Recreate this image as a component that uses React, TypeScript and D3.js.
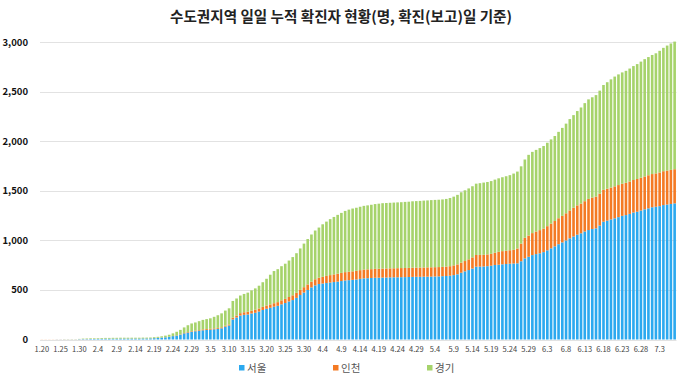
import React from "react";
import * as d3 from "d3";

const TITLE = "수도권지역 일일 누적 확진자 현황(명, 확진(보고)일 기준)";
const SERIES_NAMES = ["서울", "인천", "경기"];
const SERIES_COLORS = ["#2CA9EF", "#F47A24", "#A6D36B"];
const START_DATE = new Date(2020, 0, 20);
const Y_TICKS = [0, 500, 1000, 1500, 2000, 2500, 3000];

// Seoul cumulative, 1.20 ~ 7.7
const seoul = [
  0, 0, 0, 0, 1, 1, 1, 1, 1, 1,
  3, 4, 4, 5, 5, 6, 7, 8, 8, 8,
  8, 9, 9, 9, 9, 9, 9, 10, 10, 11,
  13, 16, 19, 22, 27, 34, 40, 49, 62, 70,
  78, 83, 88, 93, 96, 99, 103, 108, 113, 130,
  141, 203, 222, 242, 249, 253, 263, 270, 282, 298,
  310, 320, 331, 340, 355, 368, 384, 398, 420, 449,
  474, 500, 526, 546, 560, 565, 570, 575, 580, 584,
  590, 596, 599, 602, 606, 612, 617, 619, 621, 623,
  624, 625, 626, 627, 628, 628, 629, 630, 631, 632,
  633, 633, 634, 634, 635, 636, 637, 639, 641, 644,
  650, 658, 674, 688, 701, 716, 735, 736, 737, 740,
  745, 752, 755, 759, 762, 765, 767, 769, 790, 819,
  835, 852, 862, 870, 882, 900, 920, 940, 962, 980,
  1000, 1021, 1040, 1058, 1072, 1090, 1105, 1115, 1122, 1150,
  1189, 1200, 1212, 1223, 1235, 1248, 1256, 1268, 1282, 1290,
  1302, 1314, 1324, 1335, 1340, 1346, 1357, 1362, 1368, 1374,
];

// Incheon cumulative
const incheon = [
  1, 1, 1, 1, 1, 1, 1, 1, 1, 1,
  1, 1, 1, 1, 1, 1, 1, 1, 1, 1,
  1, 1, 1, 1, 1, 1, 1, 1, 1, 1,
  1, 1, 1, 1, 1, 2, 3, 3, 4, 6,
  6, 7, 7, 9, 9, 9, 9, 9, 10, 10,
  11, 18, 20, 24, 26, 27, 28, 30, 31, 32,
  33, 34, 35, 37, 40, 42, 45, 48, 51, 52,
  54, 56, 58, 62, 64, 68, 72, 75, 77, 80,
  82, 84, 85, 86, 87, 88, 89, 89, 89, 90,
  90, 91, 91, 91, 91, 92, 92, 92, 92, 93,
  93, 93, 93, 94, 94, 94, 94, 94, 95, 96,
  98, 100, 102, 104, 108, 113, 118, 118, 118, 119,
  120, 124, 130, 133, 134, 136, 138, 150, 178, 208,
  214, 222, 228, 234, 238, 244, 250, 256, 262, 268,
  274, 282, 290, 296, 300, 306, 314, 318, 320, 322,
  322, 322, 322, 323, 324, 324, 326, 327, 328, 330,
  331, 332, 334, 335, 337, 340, 342, 343, 344, 345,
];

// Gyeonggi cumulative
const gyeonggi = [
  0, 0, 0, 0, 0, 0, 1, 1, 1, 1,
  2, 4, 5, 6, 6, 6, 7, 7, 7, 8,
  8, 8, 8, 8, 8, 8, 8, 8, 8, 8,
  9, 10, 12, 16, 20, 26, 35, 45, 56, 68,
  78, 82, 90, 96, 101, 106, 117, 128, 141, 152,
  163, 168, 172, 178, 185, 193, 205, 216, 230, 248,
  270, 300, 325, 333, 345, 355, 368, 386, 400, 418,
  440, 458, 476, 492, 506, 530, 548, 565, 580, 594,
  606, 618, 627, 634, 637, 640, 643, 646, 650, 654,
  657, 660, 661, 662, 663, 664, 665, 667, 668, 670,
  671, 673, 675, 676, 678, 679, 680, 681, 683, 688,
  694, 702, 710, 714, 716, 718, 720, 724, 729, 731,
  734, 738, 742, 746, 752, 758, 770, 776, 780, 790,
  815, 820, 824, 828, 833, 842, 850, 858, 872, 888,
  905, 922, 935, 952, 970, 990, 1005, 1012, 1025, 1040,
  1058, 1075, 1092, 1108, 1117, 1124, 1130, 1140, 1150, 1160,
  1172, 1184, 1193, 1202, 1212, 1228, 1245, 1262, 1276, 1288,
];

const W = 680;
const H = 377;
const FONT = "'Noto Sans CJK KR', 'Noto Sans', sans-serif";

export default function App() {
  const dates = seoul.map((_, i) => d3.timeDay.offset(START_DATE, i));
  const labels = dates.map((d) => `${d.getMonth() + 1}.${d.getDate()}`);
  const rows = labels.map((k, i) => ({
    key: k,
    s0: seoul[i],
    s1: incheon[i],
    s2: gyeonggi[i],
  }));
  const stack = d3.stack<any>().keys(["s0", "s1", "s2"])(rows);

  const x = d3
    .scaleBand<string>()
    .domain(labels)
    .range([40, 676.5])
    .paddingInner(0.3)
    .paddingOuter(0.15);
  const y = d3.scaleLinear().domain([0, 3000]).range([339.5, 42.3]);
  const fmt = d3.format(",");

  const legendX = [239, 333, 427];

  return (
    <svg
      width={W}
      height={H}
      style={{ position: "absolute", left: 0, top: 0, background: "#fff" }}
      fontFamily={FONT}
    >
      <text
        x={341}
        y={22}
        textAnchor="middle"
        fontSize={14.6}
        fontWeight={700}
        fill="#222"
      >
        {TITLE}
      </text>
      {Y_TICKS.map((t) => (
        <g key={t}>
          <line
            x1={40}
            x2={676.5}
            y1={Math.round(y(t)) + 0.5}
            y2={Math.round(y(t)) + 0.5}
            stroke="#e2e2e2"
            strokeWidth={1}
          />
          <text
            x={28}
            y={y(t)}
            dy="0.35em"
            textAnchor="end"
            fontSize={9.5}
            fontWeight={700}
            fill="#111"
          >
            {fmt(t)}
          </text>
        </g>
      ))}
      {stack.map((layer, si) => (
        <g key={si} fill={SERIES_COLORS[si]}>
          {layer.map((d, i) => {
            const y0 = y(d[0]);
            const y1 = y(d[1]);
            return (
              <rect
                key={i}
                x={x(labels[i])}
                width={x.bandwidth()}
                y={y1}
                height={Math.max(0, y0 - y1)}
              />
            );
          })}
        </g>
      ))}
      {labels.map((l, i) =>
        i % 5 === 0 ? (
          <text
            key={l}
            x={(x(l) as number) + x.bandwidth() / 2}
            y={352}
            textAnchor="middle"
            fontSize={7.5}
            fill="#444"
          >
            {l}
          </text>
        ) : null
      )}
      {SERIES_NAMES.map((n, i) => (
        <g key={n}>
          <rect
            x={legendX[i]}
            y={365}
            width={5.5}
            height={5.5}
            fill={SERIES_COLORS[i]}
          />
          <text x={legendX[i] + 8} y={371.5} fontSize={10.5} fill="#555">
            {n}
          </text>
        </g>
      ))}
    </svg>
  );
}
